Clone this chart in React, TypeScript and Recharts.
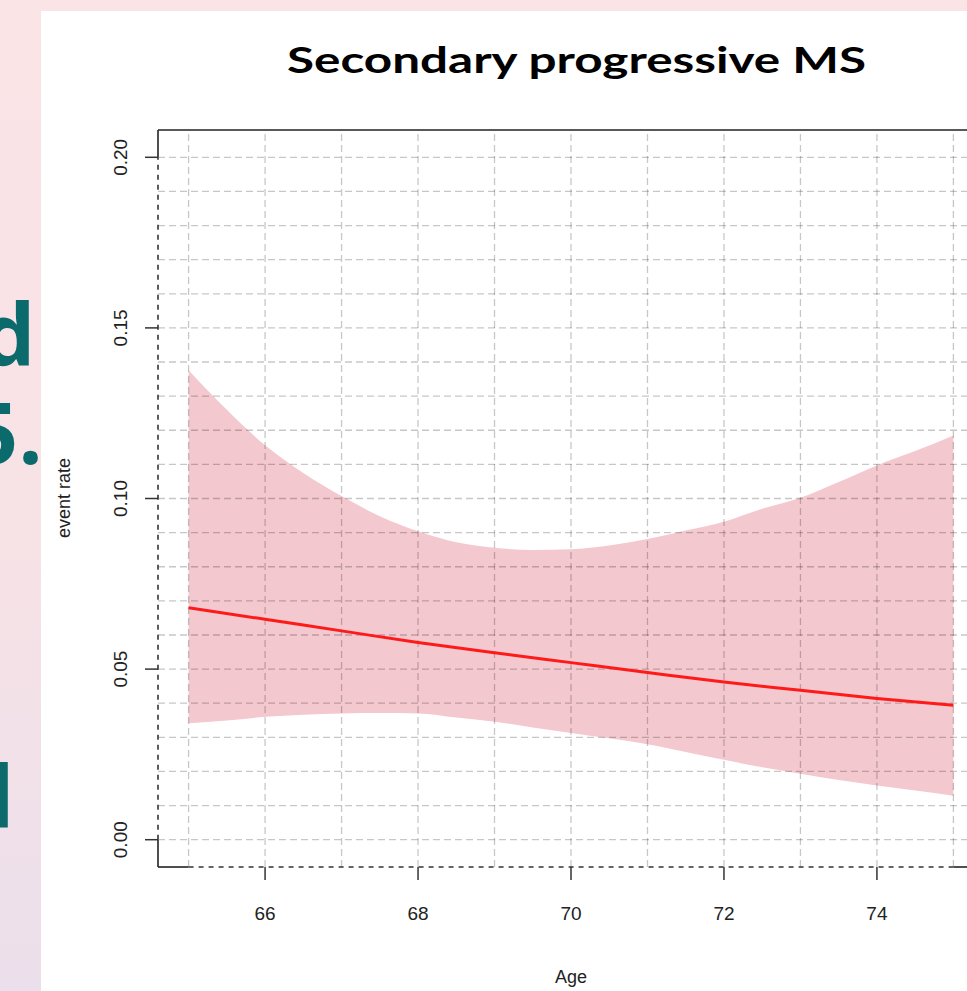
import { Area, ComposedChart, Line, ReferenceLine, XAxis, YAxis } from "recharts";

const ages = [65, 65.5, 66, 66.5, 67, 67.5, 68, 68.5, 69, 69.5, 70, 70.5, 71, 71.5, 72, 72.5, 73, 73.5, 74, 74.5, 75];
const upper = [0.1376, 0.126, 0.1156, 0.1075, 0.1007, 0.0948, 0.0904, 0.0872, 0.0856, 0.0849, 0.0851, 0.0862, 0.0881, 0.0906, 0.0932, 0.097, 0.1002, 0.1048, 0.1097, 0.1139, 0.1185];
const lower = [0.0341, 0.0349, 0.036, 0.0366, 0.037, 0.0371, 0.037, 0.0358, 0.0346, 0.0329, 0.0313, 0.0297, 0.028, 0.0257, 0.0234, 0.0212, 0.0193, 0.0175, 0.0159, 0.0144, 0.0129];
const fit = [0.068, null, 0.0646, null, 0.0612, null, 0.0578, null, 0.0548, null, 0.0519, null, 0.049, null, 0.0462, null, 0.0438, null, 0.0414, null, 0.0394];

const xTicks = [66, 68, 70, 72, 74];
const yTicks = [0, 0.05, 0.1, 0.15, 0.2];
const xGrid = [65, 66, 67, 68, 69, 70, 71, 72, 73, 74, 75];
const yGrid = [0.01, 0.02, 0.03, 0.04, 0.05, 0.06, 0.07, 0.08, 0.09, 0.1, 0.11, 0.12, 0.13, 0.14, 0.15, 0.16, 0.17, 0.18, 0.19, 0.2, 0];

const X_MIN = 64.6;
const X_MAX = 75.4;
const Y_MIN = -0.008;
const Y_MAX = 0.208;

const data = ages.map((age, i) => ({ age, band: [lower[i], upper[i]], fit: fit[i] }));

const AXIS_FONT = "'Liberation Sans', Arial, sans-serif";
const gridStroke = { stroke: "#000", strokeOpacity: 0.22, strokeWidth: 1.3, strokeDasharray: "7 4" };

function XTick({ x, y, payload }: any) {
  return (
    <text x={x} y={y} textAnchor="middle" fontSize={19} fontFamily={AXIS_FONT} fill="#222">
      {payload.value}
    </text>
  );
}

function YTick({ x, y, payload }: any) {
  return (
    <text x={x} y={y} transform={`rotate(-90 ${x} ${y})`} textAnchor="middle" fontSize={19} fontFamily={AXIS_FONT} fill="#222">
      {Number(payload.value).toFixed(2)}
    </text>
  );
}

export default function App() {
  return (
    <div
      style={{
        position: "absolute",
        left: 0,
        top: 0,
        width: 967,
        height: 991,
        overflow: "hidden",
        background: "linear-gradient(180deg, #fbe4e6 0%, #f7e2e6 55%, #ebdfeb 100%)",
      }}
    >
      {/* slide text peeking out behind the chart panel */}
      <div style={{ position: "absolute", left: 0, top: 0, fontFamily: "'Open Sans', sans-serif", fontWeight: 700, fontSize: 86, color: "#0b6a6c", lineHeight: "70px" }}>
        <div style={{ position: "absolute", left: -19, top: 298 }}>d</div>
        <div style={{ position: "absolute", left: -31, top: 396 }}>5.</div>
        <div style={{ position: "absolute", left: -40, top: 760 }}>d</div>
      </div>
      <div style={{ position: "absolute", left: 41, top: 11, width: 940, height: 990, background: "#fff" }} />

      <div style={{ position: "absolute", left: 0, top: 0 }}>
        <ComposedChart width={1000} height={991} data={data} margin={{ top: 130, right: 16, bottom: 64, left: 98 }}>
          <XAxis
            dataKey="age"
            type="number"
            domain={[X_MIN, X_MAX]}
            ticks={xTicks}
            allowDataOverflow
            axisLine={false}
            tickSize={13}
            tickMargin={40}
            tickLine={{ stroke: "#333", strokeWidth: 1.5 }}
            tick={<XTick />}
            height={60}
          />
          <YAxis
            type="number"
            domain={[Y_MIN, Y_MAX]}
            ticks={yTicks}
            allowDataOverflow
            axisLine={false}
            tickSize={13}
            tickMargin={18}
            tickLine={{ stroke: "#333", strokeWidth: 1.5 }}
            tick={<YTick />}
            width={60}
          />
          <Area dataKey="band" type="monotone" stroke="none" fill="#f4c8cf" fillOpacity={1} isAnimationActive={false} />
          {yGrid.map((v) => (
            <ReferenceLine key={`h${v}`} y={v} ifOverflow="visible" {...gridStroke} />
          ))}
          {xGrid.map((v) => (
            <ReferenceLine key={`v${v}`} x={v} ifOverflow="visible" {...gridStroke} />
          ))}
          {/* box: solid corners, dashed between the end ticks like the R output */}
          <ReferenceLine y={Y_MAX} ifOverflow="visible" stroke="#222" strokeWidth={1.6} />
          <ReferenceLine x={X_MAX} ifOverflow="visible" stroke="#222" strokeWidth={1.6} />
          <ReferenceLine segment={[{ x: X_MIN, y: Y_MIN }, { x: 65, y: Y_MIN }]} ifOverflow="visible" stroke="#222" strokeWidth={1.6} />
          <ReferenceLine segment={[{ x: 75, y: Y_MIN }, { x: X_MAX, y: Y_MIN }]} ifOverflow="visible" stroke="#222" strokeWidth={1.6} />
          <ReferenceLine segment={[{ x: 65, y: Y_MIN }, { x: 75, y: Y_MIN }]} ifOverflow="visible" stroke="#333" strokeWidth={1.6} strokeDasharray="5 5" />
          <ReferenceLine segment={[{ x: X_MIN, y: Y_MIN }, { x: X_MIN, y: 0 }]} ifOverflow="visible" stroke="#222" strokeWidth={1.6} />
          <ReferenceLine segment={[{ x: X_MIN, y: 0.2 }, { x: X_MIN, y: Y_MAX }]} ifOverflow="visible" stroke="#222" strokeWidth={1.6} />
          <ReferenceLine segment={[{ x: X_MIN, y: 0 }, { x: X_MIN, y: 0.2 }]} ifOverflow="visible" stroke="#333" strokeWidth={1.6} strokeDasharray="5 5" />
          <Line dataKey="fit" type="monotone" connectNulls stroke="#ff1a1a" strokeWidth={3} dot={false} isAnimationActive={false} />
        </ComposedChart>
      </div>

      <svg width={967} height={991} style={{ position: "absolute", left: 0, top: 0, pointerEvents: "none" }}>
        <text x={576.5} y={73} textAnchor="middle" fontFamily="Lato, 'Open Sans', sans-serif" fontWeight={700} fontSize={37} textLength={579} lengthAdjust="spacingAndGlyphs" fill="#000">
          Secondary progressive MS
        </text>
        <text x={571} y={983} textAnchor="middle" fontFamily={AXIS_FONT} fontSize={18} fill="#222">
          Age
        </text>
        <text x={70} y={498} transform="rotate(-90 70 498)" textAnchor="middle" fontFamily={AXIS_FONT} fontSize={18} fill="#222">
          event rate
        </text>
      </svg>
    </div>
  );
}
